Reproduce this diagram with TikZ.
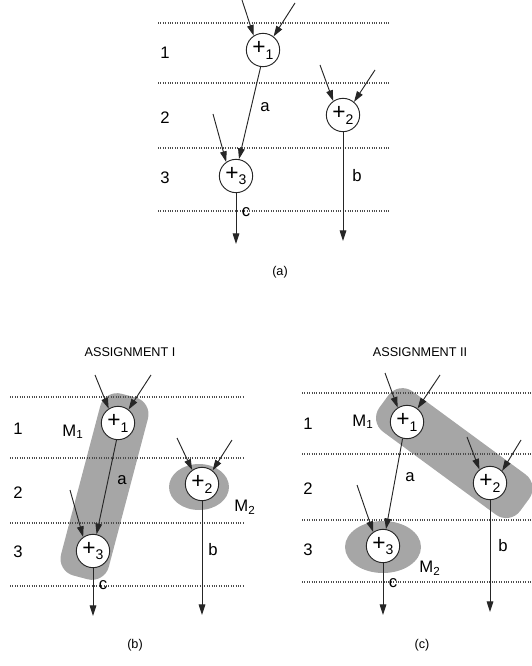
\documentclass[tikz,border=0pt]{standalone}
\usepackage{fontspec}
\setmainfont{Liberation Sans}
\usetikzlibrary{arrows.meta}
\newcommand\optxt[1]{{\fontsize{17pt}{17pt}\selectfont+}\raisebox{-0.7ex}{\fontsize{10.5pt}{10.5pt}\selectfont #1}}
\begin{document}
\begin{tikzpicture}[x=0.75pt,y=-0.75pt,
  op/.style={circle,draw=black!85,fill=white,line width=0.7pt,minimum size=25pt,inner sep=0pt},
  arr/.style={draw=black!85,line width=0.7pt,-{Triangle[length=8pt,width=5pt]}},
  dots/.style={draw=black!70,line width=0.8pt,dash pattern=on 0.8pt off 1pt},
  lab/.style={font=\fontsize{12.5pt}{12.5pt}\selectfont,inner sep=0pt},
  ttl/.style={font=\fontsize{9.5pt}{9.5pt}\selectfont,inner sep=0pt},
  shadebox/.style={fill=black!35,draw=none,inner sep=0pt},
]
\useasboundingbox (0,0) rectangle (531,666);

% ---------------- (a) ----------------
\foreach \yy in {23,83,148,211} \draw[dots] (158,\yy) -- (390,\yy);
\node[lab] (ar1) at (165,53) {1};
\node[lab] (ar2) at (165,118) {2};
\node[lab] (ar3) at (165,178) {3};
\node[op] (a1) at (263,50) {\optxt{1}};
\node[op] (a2) at (343,115) {\optxt{2}};
\node[op] (a3) at (236,176) {\optxt{3}};
\coordinate (a1i1) at (242,0);
\coordinate (a1i2) at (295,3);
\coordinate (a2i1) at (320,65);
\coordinate (a2i2) at (375,70);
\coordinate (a3i1) at (213,114);
\coordinate (a3o) at (236,244);
\coordinate (a2o) at (343,241);
\draw[arr] (a1i1) -- (a1.123);
\draw[arr] (a1i2) -- (a1.52);
\draw[arr] (a2i1) -- (a2.125);
\draw[arr] (a2i2) -- (a2.50);
\draw[arr] (a3i1) -- (a3.125);
\draw[arr] (a1.262) -- (a3.80);
\draw[arr] (a3) -- (a3o);
\draw[arr] (a2) -- (a2o);
\node[lab] (aa) at (265,107) {a};
\node[lab] (ab) at (357,176) {b};
\node[lab] (ac) at (246,212) {c};
\node[ttl] (capa) at (280,272) {(a)};

% ---------------- (b) ----------------
\node[shadebox,rounded corners=13pt,minimum width=141pt,minimum height=37pt,rotate=75.2] (bm1) at (104.5,486.5) {};
\fill[black!35] (199,487) ellipse [x radius=30, y radius=23];
\foreach \yy in {397,458,523,586} \draw[dots] (10,\yy) -- (243,\yy);
\node[ttl] (tb) at (130,352) {ASSIGNMENT I};
\node[lab] (br1) at (18,429) {1};
\node[lab] (br2) at (18,493) {2};
\node[lab] (br3) at (18,552) {3};
\node[op] (b1) at (118,423) {\optxt{1}};
\node[op] (b2) at (202,484) {\optxt{2}};
\node[op] (b3) at (93,551) {\optxt{3}};
\coordinate (b1i1) at (95,375);
\coordinate (b1i2) at (151,375);
\coordinate (b2i1) at (177,438);
\coordinate (b2i2) at (232,440);
\coordinate (b3i1) at (70,490);
\coordinate (b3o) at (93,616);
\coordinate (b2o) at (202,615);
\draw[arr] (b1i1) -- (b1.123);
\draw[arr] (b1i2) -- (b1.52);
\draw[arr] (b2i1) -- (b2.125);
\draw[arr] (b2i2) -- (b2.52);
\draw[arr] (b3i1) -- (b3.125);
\draw[arr] (b1.265) -- (b3.78);
\draw[arr] (b3) -- (b3o);
\draw[arr] (b2) -- (b2o);
\node[lab] (bM1) at (73,432) {M\textsubscript{1}};
\node[lab] (bM2) at (245,507) {M\textsubscript{2}};
\node[lab] (ba) at (122,480) {a};
\node[lab] (bb) at (213,550) {b};
\node[lab] (bc) at (103,585) {c};
\node[ttl] (capb) at (135,645) {(b)};

% ---------------- (c) ----------------
\node[shadebox,rounded corners=13pt,minimum width=131pt,minimum height=37.5pt,rotate=-36.3] (cm1) at (454.3,453.1) {};
\fill[black!35] (383,547) ellipse [x radius=38, y radius=26];
\foreach \yy in {393,454,520,582} \draw[dots] (302,\yy) -- (531,\yy);
\node[ttl] (tc) at (420,352) {ASSIGNMENT II};
\node[lab] (cr1) at (308,424) {1};
\node[lab] (cr2) at (308,489) {2};
\node[lab] (cr3) at (308,550) {3};
\node[op] (c1) at (407,422) {\optxt{1}};
\node[op] (c2) at (490,483) {\optxt{2}};
\node[op] (c3) at (383,546) {\optxt{3}};
\coordinate (c1i1) at (385,373);
\coordinate (c1i2) at (440,375);
\coordinate (c2i1) at (467,437);
\coordinate (c2i2) at (521,440);
\coordinate (c3i1) at (357,485);
\coordinate (c3o) at (383,615);
\coordinate (c2o) at (490,612);
\draw[arr] (c1i1) -- (c1.123);
\draw[arr] (c1i2) -- (c1.52);
\draw[arr] (c2i1) -- (c2.128);
\draw[arr] (c2i2) -- (c2.45);
\draw[arr] (c3i1) -- (c3.125);
\draw[arr] (c1.255) -- (c3.80);
\draw[arr] (c3) -- (c3o);
\draw[arr] (c2) -- (c2o);
\node[lab] (cM1) at (363,422) {M\textsubscript{1}};
\node[lab] (cM2) at (430,568) {M\textsubscript{2}};
\node[lab] (ca) at (410,477) {a};
\node[lab] (cb) at (503,546) {b};
\node[lab] (cc) at (393,583) {c};
\node[ttl] (capc) at (422,645) {(c)};
\end{tikzpicture}
\end{document}
